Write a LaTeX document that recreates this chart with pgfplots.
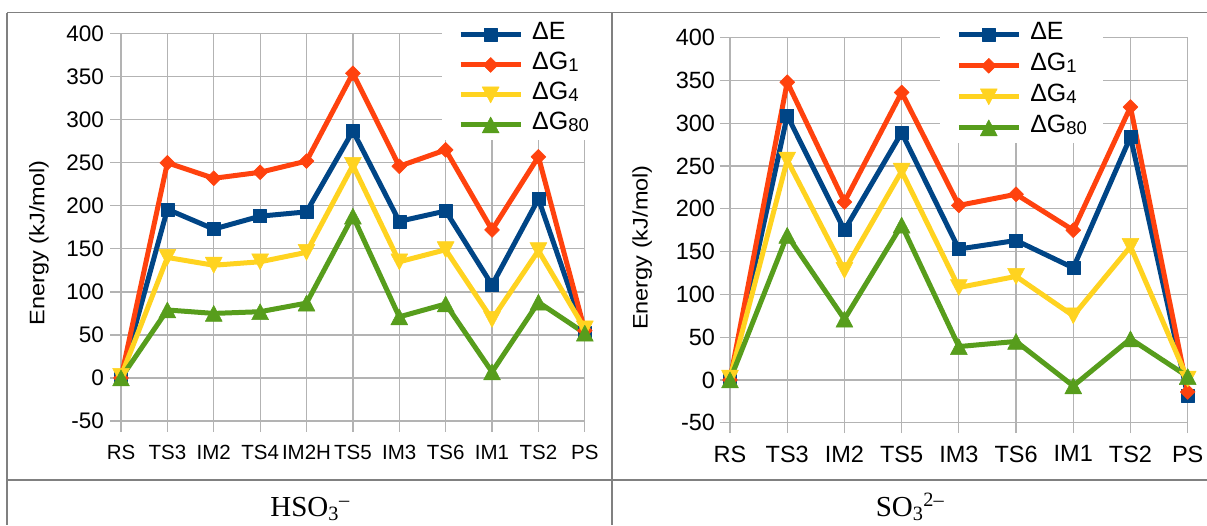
\documentclass[border=0pt]{standalone}
\usepackage{fontspec}
\setmainfont{Liberation Sans}
\newfontfamily\seriffont{Liberation Serif}
\usepackage{pgfplots}
\pgfplotsset{compat=1.18}

\definecolor{cE}{HTML}{004586}
\definecolor{cGa}{HTML}{FF420E}
\definecolor{cGb}{HTML}{FFD320}
\definecolor{cGc}{HTML}{579D1C}
\definecolor{gridc}{HTML}{B3B3B3}
\definecolor{borderc}{HTML}{808080}

\newcommand\sub[1]{\raisebox{-0.08em}{\fontsize{18.5}{21}\selectfont #1}}

\pgfdeclareplotmark{tup}{%
  \pgfpathmoveto{\pgfqpoint{0pt}{\pgfplotmarksize}}%
  \pgfpathlineto{\pgfqpoint{1.06\pgfplotmarksize}{-\pgfplotmarksize}}%
  \pgfpathlineto{\pgfqpoint{-1.06\pgfplotmarksize}{-\pgfplotmarksize}}%
  \pgfpathclose\pgfusepathqfillstroke}
\pgfdeclareplotmark{tdn}{%
  \pgfpathmoveto{\pgfqpoint{0pt}{-\pgfplotmarksize}}%
  \pgfpathlineto{\pgfqpoint{1.06\pgfplotmarksize}{\pgfplotmarksize}}%
  \pgfpathlineto{\pgfqpoint{-1.06\pgfplotmarksize}{\pgfplotmarksize}}%
  \pgfpathclose\pgfusepathqfillstroke}

\pgfplotsset{
  common/.style={
    scale only axis, anchor=south west, clip=false,
    axis line style={draw=none},
    grid=major, major grid style={draw=gridc, line width=1.2pt},
    tick align=outside, tick pos=left, major tick length=10.5pt,
    tick style={draw=gridc, line width=1.2pt},
    ymin=-50, ymax=400, ytick={-50,0,50,100,150,200,250,300,350,400},
    yticklabels={-50,0,50,100,150,200,250,300,350,400},
    xtick={0,...,10},
    ylabel={Energy (kJ/mol)},
    legend cell align=left,
    legend image code/.code={\draw[##1, mark repeat=2, mark phase=2] plot coordinates {(0pt,0pt) (30pt,0pt) (60pt,0pt)};},
    every axis plot/.append style={line width=5pt, line join=round},
  },
  sE/.style={color=cE, mark=square*, mark size=6.5pt, mark options={line width=0.5pt}},
  sGa/.style={color=cGa, mark=square*, mark size=5.3pt, mark options={rotate=45, line width=0.5pt}},
  sGb/.style={color=cGb, mark=tdn, mark size=8pt, mark options={line width=0.5pt}},
  sGc/.style={color=cGc, mark=tup, mark size=8pt, mark options={line width=0.5pt}},
}

\begin{document}
\begin{tikzpicture}[x=1pt,y=1pt]
\useasboundingbox (0,0) rectangle (1207,-525);
% table borders
\draw[borderc, line width=1.3pt] (7,-12.5) -- (1207,-12.5);
\draw[borderc, line width=1.3pt] (7,-480) -- (1207,-480);
\draw[borderc, line width=1.3pt] (7,-12.5) -- (7,-525);
\draw[borderc, line width=1.3pt] (612,-12.5) -- (612,-525);
\node[anchor=base, font=\seriffont\fontsize{29}{34}\selectfont] at (310,-516) {HSO\textsubscript{3}\textsuperscript{–}};
\node[anchor=base, font=\seriffont\fontsize{29}{34}\selectfont] at (910,-516) {SO\textsubscript{3}\textsuperscript{2–}};

% left panel
\begin{axis}[common,
  at={(121pt,-421pt)}, width=463.8pt, height=387.3pt,
  xmin=0, xmax=10,
  xticklabels={RS,TS3,IM2,TS4,IM2H,TS5,IM3,TS6,IM1,TS2,PS},
  xticklabel style={font=\fontsize{20.5}{24}\selectfont, yshift=-10pt},
  yticklabel style={font=\fontsize{22.5}{26}\selectfont, xshift=-3pt},
  ylabel style={font=\fontsize{21}{25}\selectfont, xscale=1.12, at={(rel axis cs:-0.177,0.46)}, anchor=center},
  legend style={draw=none, fill=white, font=\fontsize{25}{29}\selectfont,
    at={(rel axis cs:0.692,1.036)}, anchor=north west,
    inner xsep=16pt, inner ysep=5pt, row sep=10pt,
    nodes={inner sep=0pt, text height=15pt, text depth=5pt},
    /tikz/every odd column/.append style={column sep=9pt}},
]
\addplot[sE] coordinates {(0,0) (1,196) (2,173) (3,188) (4,193) (5,287) (6,182) (7,194) (8,108) (9,208) (10,52)};
\addlegendentry{ΔE}
\addplot[sGa] coordinates {(0,0) (1,250) (2,232) (3,239) (4,252) (5,354) (6,246) (7,265) (8,172) (9,257) (10,55)};
\addlegendentry{ΔG\sub{1}}
\addplot[sGb] coordinates {(0,2) (1,140) (2,131) (3,135) (4,146) (5,247) (6,135) (7,149) (8,68) (9,148) (10,57)};
\addlegendentry{ΔG\sub{4}}
\addplot[sGc] coordinates {(0,0) (1,79) (2,75) (3,77) (4,87) (5,188) (6,71) (7,86) (8,7) (9,88) (10,52)};
\addlegendentry{ΔG\sub{80}}
\end{axis}

% right panel
\begin{axis}[common,
  at={(730pt,-422.7pt)}, width=457.7pt, height=385pt,
  xmin=0, xmax=8,
  xticklabels={RS,TS3,IM2,TS5,IM3,TS6,IM1,TS2,PS},
  xticklabel style={font=\fontsize{23.5}{28}\selectfont, yshift=-9pt},
  yticklabel style={font=\fontsize{23.5}{28}\selectfont, xshift=-1pt},
  ylabel style={font=\fontsize{21}{25}\selectfont, xscale=1.12, at={(rel axis cs:-0.192,0.455)}, anchor=center},
  legend style={draw=none, fill=white, font=\fontsize{25}{29}\selectfont,
    at={(rel axis cs:0.459,1.047)}, anchor=north west,
    inner xsep=16pt, inner ysep=5pt, row sep=11pt,
    nodes={inner sep=0pt, text height=15pt, text depth=5pt},
    /tikz/every odd column/.append style={column sep=9pt}},
]
\addplot[sE] coordinates {(0,0) (1,309) (2,175) (3,289) (4,153) (5,163) (6,131) (7,284) (8,-18)};
\addlegendentry{ΔE}
\addplot[sGa] coordinates {(0,0) (1,348) (2,208) (3,336) (4,204) (5,217) (6,175) (7,319) (8,-14)};
\addlegendentry{ΔG\sub{1}}
\addplot[sGb] coordinates {(0,2) (1,257) (2,128) (3,244) (4,108) (5,121) (6,75) (7,156) (8,1)};
\addlegendentry{ΔG\sub{4}}
\addplot[sGc] coordinates {(0,0) (1,169) (2,71) (3,181) (4,39) (5,45) (6,-7) (7,48) (8,4)};
\addlegendentry{ΔG\sub{80}}
\end{axis}
\end{tikzpicture}
\end{document}
